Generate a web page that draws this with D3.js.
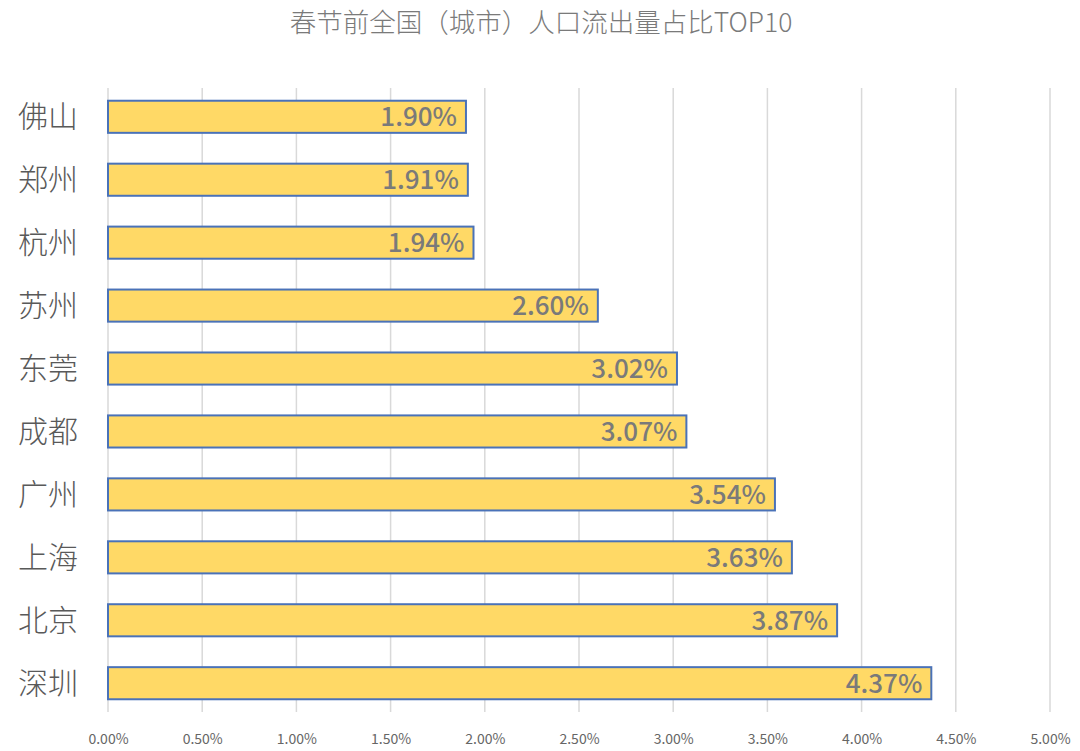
<!DOCTYPE html>
<html>
<head>
<meta charset="utf-8">
<script src="https://cdn.jsdelivr.net/npm/d3@7"></script>
<style>
  body { margin: 0; background: #fff; }
  text { font-family: "Noto Sans CJK SC", "Noto Sans", sans-serif; }
</style>
</head>
<body>
<div class="chart"></div>
<script>
const title = "春节前全国（城市）人口流出量占比TOP10";
const cities = ["佛山", "郑州", "杭州", "苏州", "东莞", "成都", "广州", "上海", "北京", "深圳"];
const shares = [1.90, 1.91, 1.94, 2.60, 3.02, 3.07, 3.54, 3.63, 3.87, 4.37];
const ticks = [0, 0.5, 1, 1.5, 2, 2.5, 3, 3.5, 4, 4.5, 5];

const W = 1080, H = 751;
const margin = { top: 85, right: 30, bottom: 40, left: 108 };
const width = 1050 - margin.left;
const height = 715 - margin.top;

const svg = d3.select(".chart")
  .append("svg")
  .attr("width", W)
  .attr("height", H);

const g = svg.append("g")
  .attr("transform", `translate(${margin.left}, ${margin.top})`);

// title
svg.append("text")
  .attr("x", 541)
  .attr("y", 32)
  .attr("text-anchor", "middle")
  .attr("font-size", "26.5px")
  .attr("font-weight", 300)
  .attr("fill", "#7a7a7a")
  .text(title);

const x = d3.scaleLinear()
  .domain([0, 5])
  .range([0, width]);

const y = d3.scaleBand()
  .domain(cities)
  .range([0, height])
  .paddingInner(0.49)
  .paddingOuter(0.25);

// gridlines
g.selectAll(".grid")
  .data(ticks)
  .enter()
  .append("line")
  .attr("x1", d => x(d))
  .attr("x2", d => x(d))
  .attr("y1", 3)
  .attr("y2", height - 3)
  .attr("stroke", "#d9d9d9")
  .attr("stroke-width", 1.5);

// x axis labels
const xAxis = g.append("g")
  .attr("transform", `translate(0, ${height})`)
  .call(d3.axisBottom(x).tickValues(ticks).tickFormat(d => d.toFixed(2) + "%").tickSize(0));
xAxis.select(".domain").remove();
xAxis.selectAll("text")
  .attr("dy", "0")
  .attr("y", 29)
  .attr("font-size", "14px")
  .attr("font-family", "'Open Sans', 'Noto Sans', sans-serif")
  .attr("fill", "#666");

// y axis labels
const yAxis = g.append("g")
  .call(d3.axisLeft(y).tickSize(0).tickPadding(0));
yAxis.select(".domain").remove();
yAxis.selectAll("text")
  .attr("x", -90)
  .attr("text-anchor", "start")
  .attr("dy", "0.35em")
  .attr("font-size", "30px")
  .attr("font-weight", 300)
  .attr("fill", "#595959");

// bars
g.selectAll(".bar")
  .data(cities)
  .enter()
  .append("rect")
  .attr("x", x(0))
  .attr("y", d => y(d))
  .attr("width", (d, i) => x(shares[i]) - x(0))
  .attr("height", y.bandwidth())
  .attr("fill", "#ffd966")
  .attr("stroke", "#4a72b8")
  .attr("stroke-width", 2);

// value labels
g.selectAll(".val")
  .data(cities)
  .enter()
  .append("text")
  .attr("x", (d, i) => x(shares[i]) - 9)
  .attr("y", d => y(d) + y.bandwidth() / 2)
  .attr("dy", "0.36em")
  .attr("text-anchor", "end")
  .attr("font-size", "26px")
  .attr("font-weight", 500)
  .attr("font-family", "'Noto Sans', sans-serif")
  .attr("fill", "#7a7a7a")
  .text((d, i) => shares[i].toFixed(2) + "%");
</script>
</body>
</html>
